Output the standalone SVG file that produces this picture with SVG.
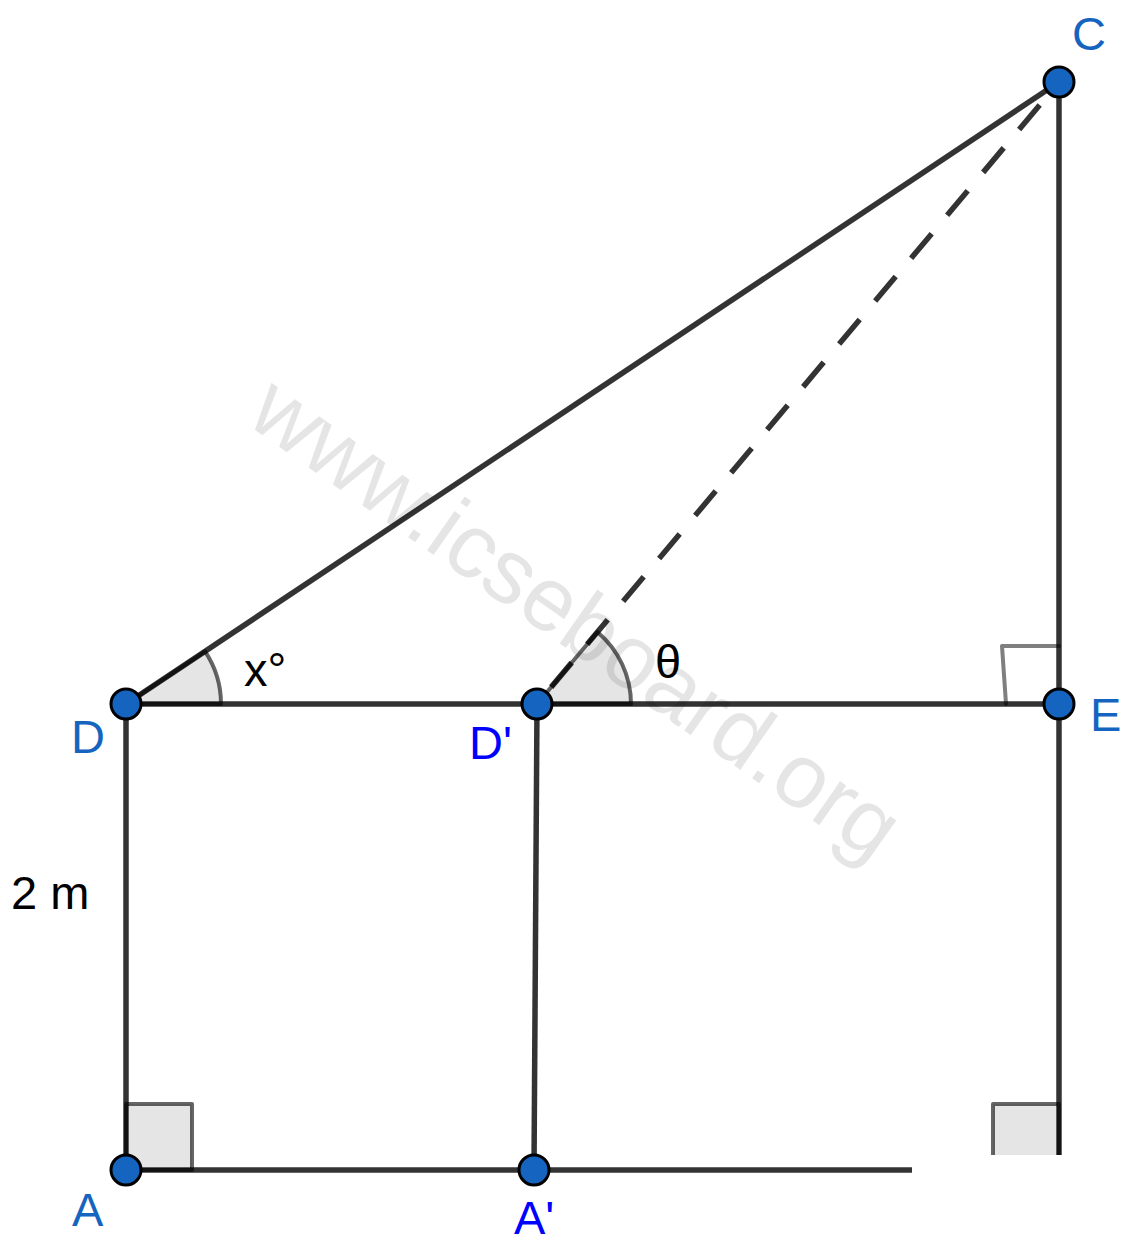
<svg xmlns="http://www.w3.org/2000/svg" width="1139" height="1243" viewBox="0 0 1139 1243">
<style>
.ln{stroke:#333333;stroke-width:5.5;fill:none;stroke-linecap:butt}
.mk{fill:#000;fill-opacity:0.1;stroke:#000;stroke-opacity:0.6;stroke-width:4;stroke-linejoin:round}
.pt{fill:#1565c0;stroke:#000;stroke-width:3}
.lb{font-family:"Liberation Sans",Arial,sans-serif;font-size:47px}
.bl{fill:#1565c0}
.pb{fill:#0000ff}
.bk{fill:#000}
</style>
<defs>
<clipPath id="cut"><rect x="0" y="0" width="1139" height="1155"/></clipPath>
</defs>
<rect width="1139" height="1243" fill="#fff"/>
<g id="connectors">
<line class="ln" x1="126" y1="704" x2="1059" y2="82"/>
<line class="ln" x1="1059" y1="82" x2="537" y2="704" stroke-dasharray="32 24" stroke-dashoffset="26"/>
<line class="ln" x1="1059" y1="82" x2="1059" y2="1155"/>
<line class="ln" x1="126" y1="704" x2="1059" y2="704"/>
<line class="ln" x1="126" y1="704" x2="126" y2="1170"/>
<line class="ln" x1="537" y1="704" x2="534" y2="1170"/>
<line class="ln" x1="126" y1="1170" x2="912" y2="1170"/>
</g>
<g id="angle-x">
<path class="mk" d="M126,704 L221,704 A95,95 0 0 0 205.05,651.3 Z"/>
</g>
<g id="angle-theta">
<path class="mk" d="M537,704 L631,704 A94,94 0 0 0 597.4,632 Z"/>
</g>
<g id="right-E">
<path d="M1006,704 L1002,646 L1059,646" fill="none" stroke="#000" stroke-opacity="0.5" stroke-width="4" stroke-linejoin="round" stroke-linecap="round"/>
</g>
<g id="right-A">
<rect class="mk" x="126" y="1104" width="66" height="66"/>
</g>
<g id="right-B" clip-path="url(#cut)">
<rect class="mk" x="993" y="1104" width="66" height="66"/>
</g>
<text transform="translate(572,624) rotate(35)" x="0" y="23" text-anchor="middle" font-family="Liberation Sans, Arial, sans-serif" font-size="91" fill="#000" fill-opacity="0.1">www.icseboard.org</text>
<g id="node-C"><circle class="pt" cx="1059" cy="82" r="15"/><text class="lb bl" x="1072" y="50">C</text></g>
<g id="node-D"><circle class="pt" cx="126" cy="704" r="15"/><text class="lb bl" x="71" y="753">D</text></g>
<g id="node-Dp"><circle class="pt" cx="537" cy="704" r="15"/><text class="lb pb" x="469" y="759">D'</text></g>
<g id="node-E"><circle class="pt" cx="1059" cy="704" r="15"/><text class="lb bl" x="1090" y="731">E</text></g>
<g id="node-A"><circle class="pt" cx="126" cy="1170" r="15"/><text class="lb bl" x="72" y="1226">A</text></g>
<g id="node-Ap"><circle class="pt" cx="534" cy="1170" r="15"/><text class="lb pb" x="514" y="1234">A'</text></g>
<text class="lb bk" x="244" y="686">x°</text>
<text class="lb bk" x="655" y="678">θ</text>
<text class="lb bk" x="11" y="909" font-size="49">2 m</text>
</svg>
